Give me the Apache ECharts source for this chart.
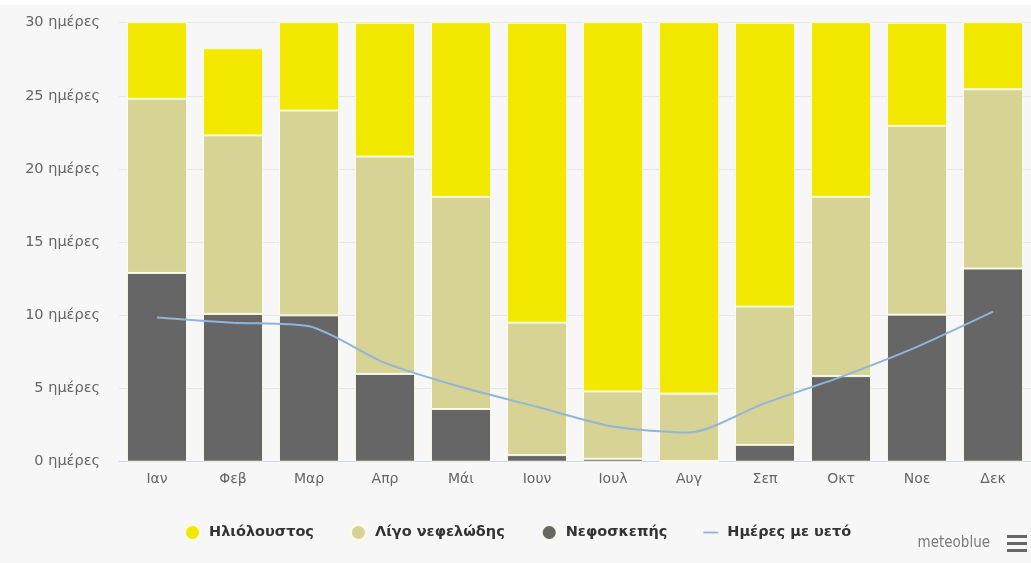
<!DOCTYPE html>
<html>
<head>
<meta charset="utf-8">
<script src="https://cdn.jsdelivr.net/npm/echarts@6/dist/echarts.min.js"></script>
<style>
html,body{margin:0;padding:0;background:#ffffff;}
#c{position:absolute;left:0;top:0;width:1031px;height:563px;}
</style>
</head>
<body>
<div id="c"></div>
<script>
const months = ['Ιαν','Φεβ','Μαρ','Απρ','Μάι','Ιουν','Ιουλ','Αυγ','Σεπ','Οκτ','Νοε','Δεκ'];
const overcast = [12.9, 10.1, 10.0, 6.0, 3.6, 0.45, 0.2, 0.05, 1.15, 5.85, 10.05, 13.2];
const partlyCloudy = [11.9, 12.2, 14.0, 14.85, 14.5, 9.05, 4.6, 4.6, 9.45, 12.25, 12.9, 12.25];
const sunny = [6.2, 5.95, 7.0, 9.15, 12.9, 20.5, 26.2, 26.35, 19.4, 12.9, 7.05, 5.55];
const rainDays = [9.85, 9.5, 9.25, 6.75, 5.1, 3.75, 2.4, 2.0, 4.0, 5.8, 7.85, 10.25];
const yTicks = [0, 5, 10, 15, 20, 25, 30];
const names = ['Ηλιόλουστος', 'Λίγο νεφελώδης', 'Νεφοσκεπής', 'Ημέρες με υετό'];

const FONT = '"DejaVu Sans", sans-serif';
const chart = echarts.init(document.getElementById('c'), null, {renderer: 'canvas'});
const barStyle = (c) => ({color: c, borderColor: 'rgba(255,255,235,0.9)', borderWidth: 1});
chart.setOption({
  backgroundColor: 'transparent',
  animation: false,
  graphic: [
    {type: 'rect', z: -10, shape: {x: 0, y: 5, width: 1031, height: 558}, style: {fill: '#f7f7f8'}},
    {type: 'text', right: 41, top: 536, style: {text: 'meteoblue', fill: '#7a7a7a', font: '15px "Liberation Sans Narrow", "DejaVu Sans Condensed", sans-serif'}},
    {type: 'rect', shape: {x: 1007, y: 535, width: 20, height: 3}, style: {fill: '#666666'}},
    {type: 'rect', shape: {x: 1007, y: 542, width: 20, height: 3}, style: {fill: '#666666'}},
    {type: 'rect', shape: {x: 1007, y: 549, width: 20, height: 3}, style: {fill: '#666666'}}
  ],
  grid: {left: 119, right: 0, top: 22.7, bottom: 101.3, containLabel: false},
  legend: {
    data: [
      {name: names[0], icon: 'circle'},
      {name: names[1], icon: 'circle'},
      {name: names[2], icon: 'circle'},
      {name: names[3], icon: 'path://M0,0 L16,0 L16,2 L0,2 Z'}
    ],
    left: 179, top: 519,
    itemWidth: 15, itemHeight: 15, itemGap: 36,
    textStyle: {color: '#333333', fontSize: 14.5, fontWeight: 'bold', fontFamily: FONT, padding: [0, 0, 0, 4]}
  },
  xAxis: {
    type: 'category', data: months,
    axisLine: {lineStyle: {color: '#ccd6eb'}},
    axisTick: {show: false},
    axisLabel: {color: '#666666', fontSize: 14, fontFamily: FONT, margin: 11}
  },
  yAxis: {
    type: 'value', min: 0, max: 30, interval: 5,
    axisLabel: {color: '#666666', fontSize: 14.5, fontFamily: FONT, margin: 19,
      formatter: (v) => yTicks.includes(v) ? v + ' ημέρες' : ''},
    splitLine: {lineStyle: {color: '#e6e6e6'}},
    axisLine: {show: false}, axisTick: {show: false}
  },
  series: [
    {name: names[2], type: 'bar', stack: 'd', data: overcast, barCategoryGap: '21%', itemStyle: barStyle('#666666'), clip: true},
    {name: names[1], type: 'bar', stack: 'd', data: partlyCloudy, itemStyle: barStyle('#d6d394'), clip: true},
    {name: names[0], type: 'bar', stack: 'd', data: sunny, itemStyle: barStyle('#f3e800'), clip: true},
    {name: names[3], type: 'line', data: rainDays, smooth: 0.25, showSymbol: false, symbol: 'none',
      lineStyle: {color: '#8fb5dd', width: 2}, itemStyle: {color: '#8fb5dd'}, z: 5}
  ]
});
</script>
</body>
</html>
